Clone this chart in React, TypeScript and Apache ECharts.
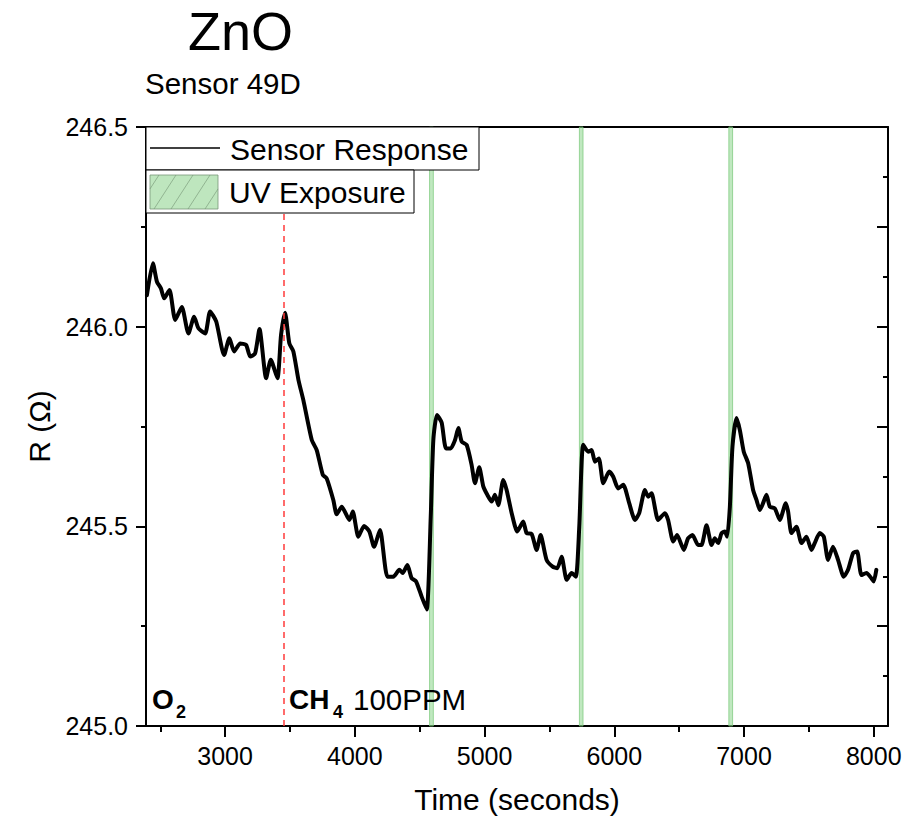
import React, { useEffect, useRef } from "react";
import * as echarts from "echarts";

const times = [
  2397, 2443, 2474, 2505, 2530, 2571, 2615, 2666, 2717, 2761, 2794, 2846, 2884, 2931, 2992, 3033, 3069, 3116, 3162, 3193,
  3231, 3265, 3316, 3352, 3403, 3431, 3462, 3495, 3526, 3565, 3603, 3668, 3706, 3753, 3783, 3834, 3860, 3899, 3958, 3984,
  4027, 4071, 4112, 4148, 4194, 4251, 4297, 4343, 4369, 4405, 4438, 4472, 4515, 4554, 4585, 4605, 4633, 4669, 4703, 4739,
  4772, 4798, 4824, 4862, 4900, 4926, 4959, 4990, 5021, 5055, 5080, 5106, 5144, 5170, 5209, 5252, 5298, 5324, 5363, 5401,
  5432, 5478, 5525, 5560, 5594, 5633, 5671, 5704, 5730, 5760, 5799, 5825, 5851, 5881, 5915, 5961, 5992, 6030, 6069, 6115,
  6159, 6192, 6236, 6261, 6287, 6338, 6390, 6415, 6454, 6484, 6536, 6569, 6603, 6646, 6672, 6711, 6750, 6775, 6801, 6827,
  6852, 6870, 6891, 6911, 6942, 6968, 6998, 7032, 7070, 7096, 7122, 7147, 7173, 7199, 7237, 7276, 7322, 7340, 7366, 7404,
  7443, 7481, 7520, 7545, 7584, 7615, 7648, 7686, 7725, 7769, 7802, 7841, 7872, 7905, 7944, 7982, 8000, 8020,
];

const resistance = [
  246.079, 246.159, 246.113, 246.096, 246.071, 246.092, 246.017, 246.049, 245.983, 246.025, 245.996, 245.983, 246.038, 246.013, 245.929, 245.971, 245.938, 245.958, 245.954, 245.925,
  245.933, 245.994, 245.871, 245.917, 245.871, 245.979, 246.035, 245.958, 245.938, 245.867, 245.816, 245.716, 245.691, 245.629, 245.62, 245.566, 245.53, 245.549, 245.516, 245.537,
  245.474, 245.501, 245.487, 245.449, 245.491, 245.374, 245.374, 245.391, 245.383, 245.403, 245.37, 245.362, 245.324, 245.292, 245.524, 245.716, 245.779, 245.76, 245.695, 245.695,
  245.716, 245.746, 245.712, 245.704, 245.654, 245.608, 245.648, 245.6, 245.579, 245.562, 245.579, 245.553, 245.616, 245.591, 245.533, 245.487, 245.512, 245.483, 245.481, 245.441,
  245.478, 245.416, 245.399, 245.395, 245.424, 245.366, 245.383, 245.374, 245.499, 245.704, 245.687, 245.691, 245.662, 245.67, 245.608, 245.637, 245.624, 245.595, 245.604, 245.558,
  245.516, 245.533, 245.591, 245.574, 245.583, 245.516, 245.533, 245.516, 245.462, 245.478, 245.441, 245.47, 245.478, 245.453, 245.453, 245.503, 245.453, 245.47, 245.458, 245.483,
  245.487, 245.474, 245.549, 245.699, 245.771, 245.741, 245.687, 245.658, 245.591, 245.566, 245.541, 245.558, 245.579, 245.549, 245.545, 245.516, 245.558, 245.537, 245.483, 245.499,
  245.458, 245.474, 245.441, 245.458, 245.483, 245.474, 245.416, 245.449, 245.416, 245.374, 245.391, 245.433, 245.437, 245.378, 245.383, 245.37, 245.362, 245.391,
];

const uvStarts = [4576, 5731, 6883];
const uvEnds = [4605, 5759, 6912];
const gasOnTime = 3455;

const xMajorTicks = [3000, 4000, 5000, 6000, 7000, 8000];
const xMinorTicks = [2500, 3500, 4500, 5500, 6500, 7500];

const FONT = "'Liberation Sans', Arial, Helvetica, sans-serif";

export default function App() {
  const ref = useRef<HTMLDivElement>(null);

  useEffect(() => {
    if (!ref.current) return;
    const chart = echarts.init(ref.current, undefined, { renderer: "svg" });

    const lineData = times.map((t, i) => [t, resistance[i]]);
    const bands = uvStarts.map((s, i) => [{ xAxis: s }, { xAxis: uvEnds[i] }]);

    const hatchLines: any[] = [];
    const hx0 = 150, hx1 = 218, hy0 = 175, hy1 = 209;
    for (let k = -1; k < 5; k++) {
      let xa = hx0 + 4 + k * 17;
      let xb = xa + 22;
      let ya = hy1, yb = hy0;
      if (xa < hx0) { ya = hy1 - (hx0 - xa) * (34 / 22); xa = hx0; }
      if (xb > hx1) { yb = hy0 + (xb - hx1) * (34 / 22); xb = hx1; }
      if (xa >= xb) continue;
      hatchLines.push({
        type: "line",
        z: 21,
        shape: { x1: xa, y1: ya, x2: xb, y2: yb },
        style: { stroke: "rgba(110,140,110,0.7)", lineWidth: 0.8 },
      });
    }

    const option: any = {
      animation: false,
      backgroundColor: "#ffffff",
      textStyle: { fontFamily: FONT },
      grid: { left: 146, right: 29, top: 127, bottom: 95, containLabel: false },
      xAxis: [
        {
          type: "value",
          position: "bottom",
          min: 2390,
          max: 8110,
          name: "Time (seconds)",
          nameLocation: "middle",
          nameGap: 58,
          nameTextStyle: { fontSize: 30, color: "#000", fontFamily: FONT },
          axisLine: { show: true, onZero: false, lineStyle: { color: "#000", width: 2 } },
          axisTick: { show: true, customValues: xMajorTicks, length: 11, lineStyle: { color: "#000", width: 2 } },
          axisLabel: {
            show: true,
            customValues: xMajorTicks,
            fontSize: 25,
            color: "#000",
            margin: 17,
            fontFamily: FONT,
            formatter: (v: number) => String(Math.round(v)),
          },
          splitLine: { show: false },
        },
        {
          type: "value",
          position: "bottom",
          min: 2390,
          max: 8110,
          axisLine: { show: false },
          axisTick: { show: true, customValues: xMinorTicks, length: 6, lineStyle: { color: "#000", width: 2 } },
          axisLabel: { show: false },
          splitLine: { show: false },
        },
        {
          type: "value",
          position: "top",
          min: 2390,
          max: 8110,
          axisLine: { show: true, onZero: false, lineStyle: { color: "#000", width: 2 } },
          axisTick: { show: false },
          axisLabel: { show: false },
          splitLine: { show: false },
        },
      ],
      yAxis: [
        {
          type: "value",
          position: "left",
          min: 245.0,
          max: 246.5,
          interval: 0.5,
          name: "R (\u03A9)",
          nameLocation: "middle",
          nameGap: 92,
          nameRotate: 90,
          nameTextStyle: { fontSize: 30, color: "#000", fontFamily: FONT },
          axisLine: { show: true, onZero: false, lineStyle: { color: "#000", width: 2 } },
          axisTick: { show: true, length: 10, lineStyle: { color: "#000", width: 2 } },
          minorTick: { show: true, splitNumber: 2, length: 5, lineStyle: { color: "#000", width: 2 } },
          axisLabel: {
            fontSize: 25,
            color: "#000",
            margin: 18,
            fontFamily: FONT,
            formatter: (v: number) => v.toFixed(1),
          },
          splitLine: { show: false },
        },
        {
          type: "value",
          position: "right",
          min: 245.0,
          max: 246.5,
          interval: 0.25,
          axisLine: { show: true, onZero: false, lineStyle: { color: "#000", width: 2 } },
          axisTick: { show: true, inside: true, length: 11, lineStyle: { color: "#000", width: 2 } },
          minorTick: { show: true, splitNumber: 2, length: 5, lineStyle: { color: "#000", width: 2 } },
          axisLabel: { show: false },
          splitLine: { show: false },
        },
      ],
      series: [
        {
          name: "Sensor Response",
          type: "line",
          xAxisIndex: 0,
          yAxisIndex: 0,
          data: lineData,
          showSymbol: false,
          symbol: "none",
          smooth: 0.2,
          z: 2,
          lineStyle: { color: "#000", width: 4, join: "round", cap: "round" },
          markLine: {
            silent: true,
            symbol: ["none", "none"],
            label: { show: false },
            lineStyle: { color: "#ff3b3b", type: [6, 5], width: 1.5 },
            data: [{ xAxis: gasOnTime }],
          },
        },
        {
          name: "UV Exposure",
          type: "line",
          xAxisIndex: 0,
          yAxisIndex: 0,
          data: [],
          z: 3,
          markArea: {
            silent: true,
            itemStyle: {
              color: "rgba(130,210,130,0.5)",
              borderColor: "rgba(120,200,120,0.7)",
              borderWidth: 1,
            },
            data: bands,
          },
        },
      ],
      graphic: [
        {
          type: "text",
          x: 188,
          y: 31,
          z: 20,
          style: { text: "ZnO", fontSize: 54, fill: "#000", fontFamily: FONT, verticalAlign: "middle", align: "left" },
        },
        {
          type: "text",
          x: 145,
          y: 83,
          z: 20,
          style: { text: "Sensor 49D", fontSize: 29.5, fill: "#000", fontFamily: FONT, verticalAlign: "middle", align: "left" },
        },
        {
          type: "rect",
          z: 20,
          shape: { x: 146, y: 127, width: 333, height: 43 },
          style: { fill: "#fff", stroke: "#000", lineWidth: 1 },
        },
        {
          type: "line",
          z: 21,
          shape: { x1: 150, y1: 148, x2: 220, y2: 148 },
          style: { stroke: "#000", lineWidth: 1.5 },
        },
        {
          type: "text",
          x: 230,
          y: 149,
          z: 21,
          style: { text: "Sensor Response", fontSize: 30, fill: "#000", fontFamily: FONT, verticalAlign: "middle", align: "left" },
        },
        {
          type: "rect",
          z: 20,
          shape: { x: 146, y: 170, width: 268, height: 43 },
          style: { fill: "#fff", stroke: "#000", lineWidth: 1 },
        },
        {
          type: "rect",
          z: 21,
          shape: { x: hx0, y: hy0, width: hx1 - hx0, height: hy1 - hy0 },
          style: { fill: "rgba(125,205,125,0.5)", stroke: "rgba(120,150,120,0.8)", lineWidth: 1 },
        },
        ...hatchLines,
        {
          type: "text",
          x: 229,
          y: 192,
          z: 21,
          style: { text: "UV Exposure", fontSize: 30, fill: "#000", fontFamily: FONT, verticalAlign: "middle", align: "left" },
        },
        {
          type: "text",
          x: 152,
          y: 699,
          z: 20,
          style: { text: "O", fontSize: 28, fontWeight: "bold", fill: "#000", fontFamily: FONT, verticalAlign: "middle", align: "left" },
        },
        {
          type: "text",
          x: 176,
          y: 712,
          z: 20,
          style: { text: "2", fontSize: 18, fontWeight: "bold", fill: "#000", fontFamily: FONT, verticalAlign: "middle", align: "left" },
        },
        {
          type: "text",
          x: 289,
          y: 699,
          z: 20,
          style: { text: "CH", fontSize: 28, fontWeight: "bold", fill: "#000", fontFamily: FONT, verticalAlign: "middle", align: "left" },
        },
        {
          type: "text",
          x: 333,
          y: 712,
          z: 20,
          style: { text: "4", fontSize: 18, fontWeight: "bold", fill: "#000", fontFamily: FONT, verticalAlign: "middle", align: "left" },
        },
        {
          type: "text",
          x: 353,
          y: 699,
          z: 20,
          style: { text: "100PPM", fontSize: 29.5, fill: "#000", fontFamily: FONT, verticalAlign: "middle", align: "left" },
        },
      ],
    };

    chart.setOption(option);
    return () => {
      chart.dispose();
    };
  }, []);

  return (
    <div
      ref={ref}
      style={{ position: "fixed", left: 0, top: 0, width: 917, height: 821, background: "#fff" }}
    />
  );
}
